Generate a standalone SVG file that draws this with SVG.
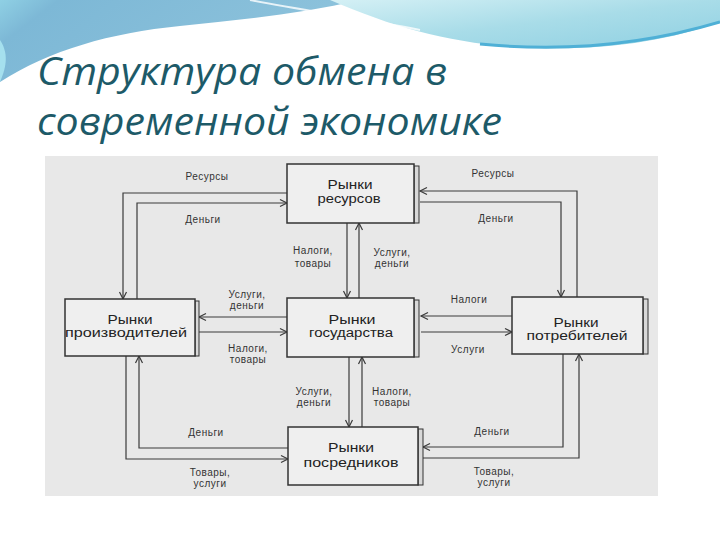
<svg xmlns="http://www.w3.org/2000/svg" width="720" height="540" viewBox="0 0 720 540">
<defs>
<linearGradient id="gL" x1="0" y1="0" x2="1" y2="0.3">
<stop offset="0" stop-color="#8fd0e4"/>
<stop offset="0.15" stop-color="#7db8d6"/>
<stop offset="1" stop-color="#8ec3dc"/>
</linearGradient>
<linearGradient id="gR" x1="0" y1="0" x2="1" y2="1">
<stop offset="0" stop-color="#d4f0f5"/>
<stop offset="0.5" stop-color="#a8dce8"/>
<stop offset="1" stop-color="#8fd0e2"/>
</linearGradient>
<marker id="ah" markerWidth="10" markerHeight="10" refX="8" refY="5" orient="auto" markerUnits="userSpaceOnUse">
<path d="M1,1.5 L8,5 L1,8.5" fill="none" stroke="#3a3a3a" stroke-width="1.2"/>
</marker>
<style>
.title{font-family:"Open Sans","Noto Sans","DejaVu Sans",sans-serif;font-style:italic;font-size:38px;fill:#1d5a68}
.box{fill:#efefef;stroke:#333;stroke-width:1.5}
.strip{fill:#d8d8d8;stroke:#333;stroke-width:1}
.bt{font-family:"Liberation Sans","DejaVu Sans",sans-serif;font-size:12.5px;fill:#222;text-anchor:middle}
.lb{font-family:"Liberation Sans","DejaVu Sans",sans-serif;font-size:10px;fill:#333;text-anchor:middle;letter-spacing:0.5px}
.cn{fill:none;stroke:#3a3a3a;stroke-width:1.2;marker-end:url(#ah)}
</style>
</defs>
<rect width="720" height="540" fill="#ffffff"/>
<g id="header">
<path d="M0,0 H360 C300,14 240,20 180,26 C110,33 50,50 0,82 Z" fill="url(#gL)"/>
<path d="M0,40 C10,55 5,70 0,82 Z" fill="#a5e0ee"/>
<path d="M330,0 H720 V22 C670,40 610,50 540,48 C460,46 400,30 330,0 Z" fill="url(#gR)"/>
<path d="M480,44 C560,52 640,46 720,22" fill="none" stroke="#4fb0d6" stroke-width="3"/>
<path d="M250,0 C300,10 360,18 420,30" fill="none" stroke="#ffffff" stroke-width="2" opacity="0.8"/>
</g>
<text class="title" x="37" y="85" textLength="410" lengthAdjust="spacingAndGlyphs">Структура обмена в</text>
<text class="title" x="37" y="135" textLength="465" lengthAdjust="spacingAndGlyphs">современной экономике</text>
<rect x="45" y="156" width="613" height="340" fill="#e8e8e8"/>
<g id="connectors">
<path class="cn" d="M287,193 H123 V299"/>
<path class="cn" d="M137,299 V203 H287"/>
<path class="cn" d="M577,297 V191 H420"/>
<path class="cn" d="M420,202 H561 V297"/>
<path class="cn" d="M347,223 V298"/>
<path class="cn" d="M359,298 V223"/>
<path class="cn" d="M287,317 H199"/>
<path class="cn" d="M199,332 H287"/>
<path class="cn" d="M512,316 H421"/>
<path class="cn" d="M421,332 H512"/>
<path class="cn" d="M349,357 V427"/>
<path class="cn" d="M362,427 V357"/>
<path class="cn" d="M288,448 H139 V356"/>
<path class="cn" d="M126,356 V459 H288"/>
<path class="cn" d="M563,354 V447 H423"/>
<path class="cn" d="M423,458 H579 V354"/>
</g>
<g id="labels">
<text class="lb" x="207" y="180">Ресурсы</text>
<text class="lb" x="203" y="223">Деньги</text>
<text class="lb" x="493" y="177">Ресурсы</text>
<text class="lb" x="496" y="222">Деньги</text>
<text class="lb" x="313" y="254">Налоги,</text>
<text class="lb" x="313" y="267">товары</text>
<text class="lb" x="392" y="256">Услуги,</text>
<text class="lb" x="392" y="267">деньги</text>
<text class="lb" x="247" y="298">Услуги,</text>
<text class="lb" x="247" y="309">деньги</text>
<text class="lb" x="248" y="352">Налоги,</text>
<text class="lb" x="248" y="363">товары</text>
<text class="lb" x="469" y="303">Налоги</text>
<text class="lb" x="468" y="353">Услуги</text>
<text class="lb" x="314" y="395">Услуги,</text>
<text class="lb" x="314" y="406">деньги</text>
<text class="lb" x="392" y="395">Налоги,</text>
<text class="lb" x="392" y="406">товары</text>
<text class="lb" x="206" y="436">Деньги</text>
<text class="lb" x="210" y="476">Товары,</text>
<text class="lb" x="210" y="487">услуги</text>
<text class="lb" x="492" y="435">Деньги</text>
<text class="lb" x="494" y="475">Товары,</text>
<text class="lb" x="494" y="486">услуги</text>
</g>
<g id="resources">
<rect class="strip" x="414" y="166" width="5" height="57"/>
<rect class="box" x="287" y="164" width="127" height="59"/>
<text class="bt" x="350" y="189" textLength="45" lengthAdjust="spacingAndGlyphs">Рынки</text>
<text class="bt" x="349" y="203" textLength="63" lengthAdjust="spacingAndGlyphs">ресурсов</text>
</g>
<g id="producers">
<rect class="strip" x="195" y="301" width="4" height="55"/>
<rect class="box" x="65" y="299" width="130" height="57"/>
<text class="bt" x="130" y="324" textLength="45" lengthAdjust="spacingAndGlyphs">Рынки</text>
<text class="bt" x="126" y="337" textLength="122" lengthAdjust="spacingAndGlyphs">производителей</text>
</g>
<g id="government">
<rect class="strip" x="414" y="300" width="5" height="57"/>
<rect class="box" x="287" y="298" width="127" height="59"/>
<text class="bt" x="352" y="324" textLength="47" lengthAdjust="spacingAndGlyphs">Рынки</text>
<text class="bt" x="351" y="337" textLength="84" lengthAdjust="spacingAndGlyphs">государства</text>
</g>
<g id="consumers">
<rect class="strip" x="643" y="299" width="5" height="55"/>
<rect class="box" x="512" y="297" width="131" height="57"/>
<text class="bt" x="576" y="327" textLength="45" lengthAdjust="spacingAndGlyphs">Рынки</text>
<text class="bt" x="577" y="340" textLength="101" lengthAdjust="spacingAndGlyphs">потребителей</text>
</g>
<g id="intermediaries">
<rect class="strip" x="418" y="429" width="5" height="56"/>
<rect class="box" x="288" y="427" width="130" height="58"/>
<text class="bt" x="351" y="452" textLength="46" lengthAdjust="spacingAndGlyphs">Рынки</text>
<text class="bt" x="351" y="467" textLength="95" lengthAdjust="spacingAndGlyphs">посредников</text>
</g>
</svg>
